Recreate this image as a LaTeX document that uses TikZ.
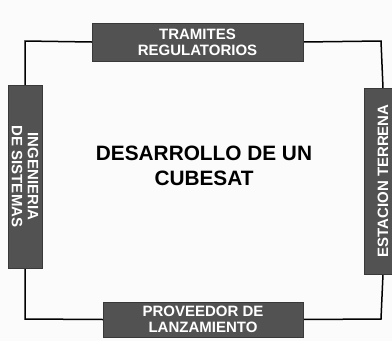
\documentclass[tikz,border=0pt]{standalone}
\usepackage{fontspec}
\setmainfont{Liberation Sans}
\definecolor{boxgray}{HTML}{525252}
\definecolor{bggray}{HTML}{FBFBFB}
\pgfdeclarelayer{bg}
\pgfsetlayers{bg,main}
\begin{document}
\begin{tikzpicture}[x=1pt,y=-1pt,
  greybox/.style={fill=boxgray,draw=boxgray!70!black,line width=0.4pt,inner sep=0pt,text=white,align=center,font=\bfseries\fontsize{15}{16}\selectfont},
  frame/.style={draw=black,line width=1.5pt}]
\useasboundingbox (0,0) rectangle (392,341);
\clip (0,0) rectangle (392,341);
\coordinate (tl) at (25,41);
\coordinate (tr) at (381,41);
\coordinate (bl) at (25,319);
\coordinate (br) at (381,319);
% boxes
\node[greybox,minimum width=211,minimum height=38] (top) at (197.5,42) {TRAMITES\\REGULATORIOS};
\node[greybox,minimum width=200,minimum height=35] (bot) at (203,319.5) {PROVEEDOR DE\\LANZAMIENTO};
\node[greybox,rotate=-90,minimum width=183,minimum height=34] (left) at (25,176.5) {INGENIERIA\\DE SISTEMAS};
\node[greybox,rotate=90,minimum width=186,minimum height=38] (right) at (383,181) {ESTACION TERRENA};
% title
\node[align=center,font=\bfseries\fontsize{20.8}{24.5}\selectfont,text=black] (title) at (204,166) {DESARROLLO DE UN\\CUBESAT};
% frame connectors behind the boxes
\begin{pgfonlayer}{bg}
\fill[bggray] (0,0) rectangle (392,341);
\draw[frame] (top.west) -- (tl) -- (left.west);
\draw[frame] (top.east) -- (tr) -- (right.east);
\draw[frame] (left.east) -- (bl) -- (bot.west);
\draw[frame] (bot.east) -- (br) -- (right.west);
\end{pgfonlayer}
\end{tikzpicture}
\end{document}
